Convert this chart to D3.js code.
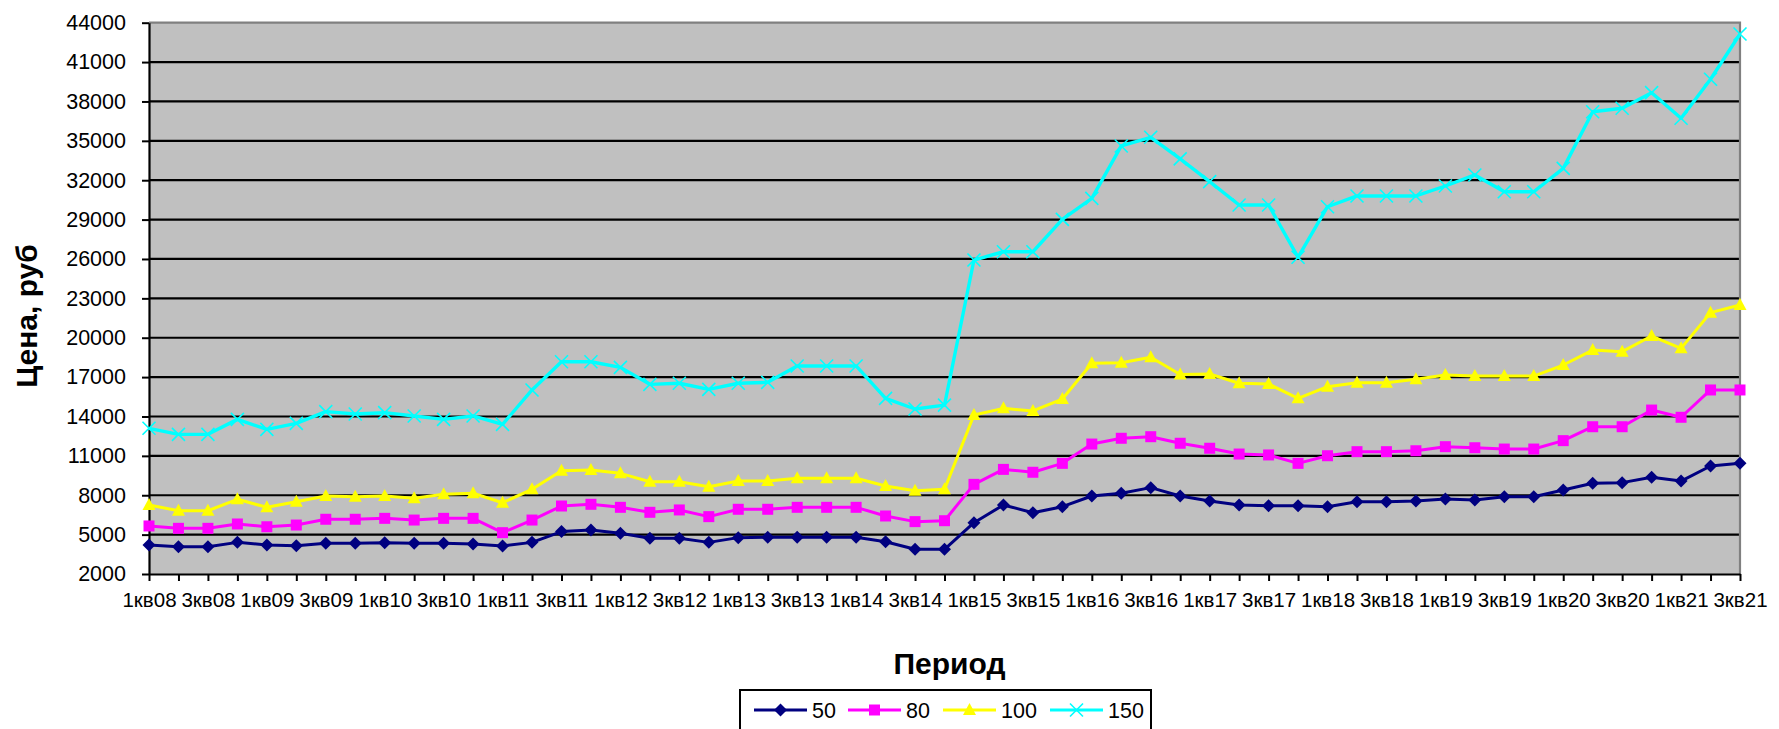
<!DOCTYPE html>
<html>
<head>
<meta charset="utf-8">
<script src="https://cdn.jsdelivr.net/npm/d3@7"></script>
<style>
  body { margin: 0; background: #fff; }
  text { font-family: Arial, "Liberation Sans", sans-serif; }
</style>
</head>
<body>
<div id="my_dataviz"></div>
<script>
// Quarters, 1st quarter 2008 .. 3rd quarter 2021
const categories = [
  "1кв08","2кв08","3кв08","4кв08","1кв09","2кв09","3кв09","4кв09",
  "1кв10","2кв10","3кв10","4кв10","1кв11","2кв11","3кв11","4кв11",
  "1кв12","2кв12","3кв12","4кв12","1кв13","2кв13","3кв13","4кв13",
  "1кв14","2кв14","3кв14","4кв14","1кв15","2кв15","3кв15","4кв15",
  "1кв16","2кв16","3кв16","4кв16","1кв17","2кв17","3кв17","4кв17",
  "1кв18","2кв18","3кв18","4кв18","1кв19","2кв19","3кв19","4кв19",
  "1кв20","2кв20","3кв20","4кв20","1кв21","2кв21","3кв21"
];

// Price per series (rub)
const price50 = [4210,4080,4080,4410,4210,4160,4340,4340,4390,4340,4340,4290,4130,4410,5230,5350,
  5100,4720,4720,4410,4770,4800,4800,4800,4800,4460,3880,3880,5910,7260,6670,7130,
  7940,8150,8580,7940,7560,7260,7200,7200,7130,7510,7510,7560,7710,7640,7890,7890,
  8400,8910,8960,9370,9080,10230,10430];
const price80 = [5660,5480,5480,5810,5600,5730,6170,6170,6240,6110,6240,6240,5150,6110,7180,7310,
  7080,6700,6880,6370,6930,6930,7080,7080,7080,6420,5990,6060,8830,9970,9750,10430,
  11900,12340,12460,11960,11580,11140,11070,10430,11010,11320,11320,11390,11700,11620,11520,11520,
  12160,13220,13220,14490,13940,16020,16020];
const price100 = [7260,6820,6820,7690,7080,7510,7940,7890,7940,7770,8070,8150,7430,8450,9870,9920,
  9670,9030,9030,8650,9080,9080,9290,9290,9290,8700,8350,8450,14110,14620,14420,15330,
  18050,18100,18510,17200,17240,16530,16470,15380,16270,16570,16570,16830,17160,17080,17080,17080,
  17920,19060,18940,20130,19190,21910,22490];
const price150 = [13100,12640,12640,13780,13020,13480,14370,14190,14290,14040,13780,14040,13400,16020,18170,18170,
  17740,16450,16530,16070,16530,16600,17850,17850,17850,15380,14570,14870,25920,26550,26550,29020,
  30620,34610,35270,33630,31890,30110,30110,26130,29980,30800,30800,30800,31560,32400,31120,31120,
  32900,37220,37480,38670,36720,39690,43140];

const seriesNames = ["50", "80", "100", "150"];
const yTicks = [2000,5000,8000,11000,14000,17000,20000,23000,26000,29000,32000,35000,38000,41000,44000];

const width = 1779;
const height = 729;
const plot = { left: 149, right: 1740, top: 22.7, bottom: 574 };

const svg = d3.select("#my_dataviz")
  .append("svg")
  .attr("width", width)
  .attr("height", height);

const x = d3.scalePoint()
  .domain(categories)
  .range([plot.left, plot.right]);

const y = d3.scaleLinear()
  .domain([2000, 44000])
  .range([plot.bottom, plot.top]);

// Plot background
svg.append("rect")
  .attr("x", plot.left)
  .attr("y", plot.top)
  .attr("width", plot.right - plot.left)
  .attr("height", plot.bottom - plot.top)
  .attr("fill", "#c0c0c0");

// Horizontal gridlines
svg.append("g")
  .selectAll("line")
  .data(yTicks.slice(1, -1))
  .join("line")
  .attr("x1", plot.left)
  .attr("x2", plot.right)
  .attr("y1", d => y(d))
  .attr("y2", d => y(d))
  .attr("stroke", "#000")
  .attr("stroke-width", 2.2);

// Grey plot border on top and right
svg.append("path")
  .attr("d", `M${plot.left},${plot.top}H${plot.right}V${plot.bottom}`)
  .attr("fill", "none")
  .attr("stroke", "#808080")
  .attr("stroke-width", 2.2);

// Y axis
const yAxis = svg.append("g")
  .attr("transform", `translate(${plot.left},0)`)
  .call(d3.axisLeft(y).tickValues(yTicks).tickSize(7).tickSizeOuter(0).tickPadding(16).tickFormat(d3.format("d")));
yAxis.selectAll("text").attr("font-size", 21.5).attr("fill", "#000").attr("font-family", "Arial, 'Liberation Sans', sans-serif");

// X axis, label every second quarter
const xAxis = svg.append("g")
  .attr("transform", `translate(0,${plot.bottom})`)
  .call(d3.axisBottom(x).tickSize(7).tickSizeOuter(0).tickPadding(11)
    .tickFormat((d, i) => i % 2 === 0 ? d : ""));
xAxis.selectAll("text").attr("font-size", 20.5).attr("fill", "#000").attr("font-family", "Arial, 'Liberation Sans', sans-serif");

[yAxis, xAxis].forEach(a => {
  a.select(".domain").attr("stroke", "#000").attr("stroke-width", 2.2);
  a.selectAll(".tick line").attr("stroke", "#000").attr("stroke-width", 2);
});

// Axis titles
svg.append("text")
  .attr("transform", "translate(37,316) rotate(-90)")
  .attr("text-anchor", "middle")
  .attr("font-size", 30)
  .attr("font-weight", "bold")
  .text("Цена, руб");

svg.append("text")
  .attr("x", (plot.left + plot.right) / 2 + 5)
  .attr("y", 674)
  .attr("text-anchor", "middle")
  .attr("font-size", 30)
  .attr("font-weight", "bold")
  .text("Период");

// Marker shapes
const markers = {
  diamond: "M0,-6.5L6.5,0L0,6.5L-6.5,0Z",
  square: "M-5.5,-5.5H5.5V5.5H-5.5Z",
  triangle: "M0,-7L6.5,5L-6.5,5Z",
  cross: "M-6.5,-6.5L6.5,6.5M-6.5,6.5L6.5,-6.5"
};

const series = [
  { name: seriesNames[0], values: price50, color: "#000080", marker: "diamond" },
  { name: seriesNames[1], values: price80, color: "#ff00ff", marker: "square" },
  { name: seriesNames[2], values: price100, color: "#ffff00", marker: "triangle" },
  { name: seriesNames[3], values: price150, color: "#00ffff", marker: "cross" }
];

const line = d3.line()
  .x((d, i) => x(categories[i]))
  .y(d => y(d));

function drawMarker(sel, s) {
  sel.attr("d", markers[s.marker])
    .attr("fill", s.marker === "cross" ? "none" : s.color)
    .attr("stroke", s.color)
    .attr("stroke-width", s.marker === "cross" ? 1.6 : 0);
}

series.forEach(s => {
  const g = svg.append("g");
  g.append("path")
    .datum(s.values)
    .attr("d", line)
    .attr("fill", "none")
    .attr("stroke", s.color)
    .attr("stroke-width", s.marker === "cross" ? 3.4 : 3)
    .attr("stroke-linejoin", "round");
  g.selectAll("path.marker")
    .data(s.values)
    .join("path")
    .attr("class", "marker")
    .attr("transform", (d, i) => `translate(${x(categories[i])},${y(d)})`)
    .call(drawMarker, s);
});

// Legend
const legend = svg.append("g");
legend.append("rect")
  .attr("x", 740)
  .attr("y", 690)
  .attr("width", 411)
  .attr("height", 50)
  .attr("fill", "#fff")
  .attr("stroke", "#000")
  .attr("stroke-width", 2);

const legendX = [754, 848, 943, 1050];
const items = legend.selectAll("g.item")
  .data(series)
  .join("g")
  .attr("class", "item")
  .attr("transform", (d, i) => `translate(${legendX[i]},710)`);

items.append("line")
  .attr("x1", 0).attr("x2", 53)
  .attr("stroke", d => d.color)
  .attr("stroke-width", 3);

items.append("path")
  .attr("transform", "translate(26.5,0)")
  .each(function(d) { d3.select(this).call(drawMarker, d); });

items.append("text")
  .attr("x", 58)
  .attr("y", 8)
  .attr("font-size", 21.5)
  .text(d => d.name);
</script>
</body>
</html>
